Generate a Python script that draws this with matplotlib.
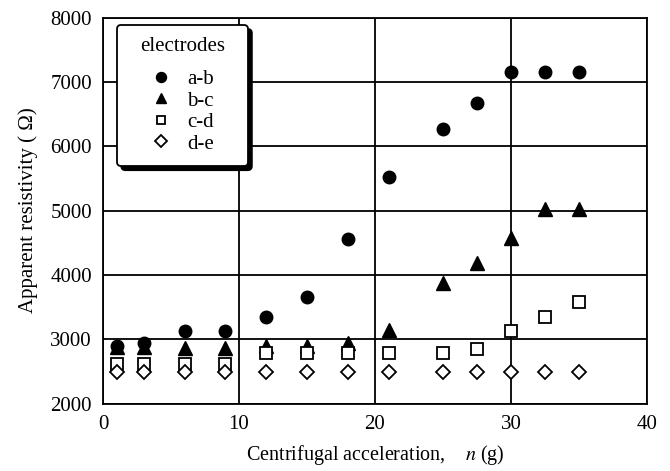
import numpy as np
import matplotlib
matplotlib.use("Agg")
from matplotlib import pyplot as plt

plt.rcParams['font.family'] = ['Liberation Serif', 'DejaVu Serif']
plt.rcParams['mathtext.fontset'] = 'stix'

# Centrifugal acceleration n (g)
n = [1, 3, 6, 9, 12, 15, 18, 21, 25, 27.5, 30, 32.5, 35]

# Apparent resistivity (ohm) for each electrode pair
rho_ab = [2900, 2940, 3130, 3130, 3340, 3650, 4550, 5515, 6260, 6670, 7150, 7150, 7150]
rho_bc = [2880, 2880, 2870, 2870, 2890, 2890, 2940, 3140, 3875, 4190, 4575, 5025, 5025]
rho_cd = [2620, 2620, 2620, 2620, 2780, 2780, 2780, 2780, 2780, 2855, 3130, 3340, 3580]
rho_de = [2485, 2485, 2485, 2485, 2485, 2485, 2485, 2490, 2490, 2490, 2490, 2490, 2490]

labels = ['a-b', 'b-c', 'c-d', 'd-e']

fig = plt.figure(figsize=(6.7, 4.71), dpi=100)
ax = fig.add_axes([0.1537, 0.1433, 0.812, 0.8195])

ax.plot(n, rho_ab, 'o', color='black', markersize=9, label=labels[0])
ax.plot(n, rho_bc, '^', color='black', markersize=9.5, label=labels[1])
ax.plot(n, rho_cd, 's', mfc='white', mec='black', mew=1.3, markersize=8, label=labels[2])
ax.plot(n, rho_de, 'D', mfc='white', mec='black', mew=1.3, markersize=7.5, label=labels[3])

ax.set_xlim(0, 40)
ax.set_ylim(2000, 8000)
ax.set_xticks([0, 10, 20, 30, 40])
ax.set_yticks(np.arange(2000, 8001, 1000))
ax.grid(True, color='black', linewidth=1.3)
ax.set_axisbelow(True)
ax.tick_params(length=0, labelsize=15)
ax.tick_params(axis='x', pad=8)
ax.tick_params(axis='y', pad=8)
for s in ax.spines.values():
    s.set_linewidth(1.3)

ax.set_xlabel('Centrifugal acceleration,    $n$ (g)', fontsize=14.5, labelpad=7)
ax.set_ylabel('Apparent resistivity ( \u03a9)', fontsize=15, labelpad=9)

leg = ax.legend(title='electrodes', loc='upper left',
                bbox_to_anchor=(0.026, 0.6, 0.24, 0.381), mode='expand',
                borderaxespad=0, fontsize=15, title_fontsize=15, fancybox=True,
                shadow={'color': 'black', 'alpha': 1, 'ox': 3, 'oy': -3},
                framealpha=1, edgecolor='black', handletextpad=-0.25,
                labelspacing=0.09, borderpad=0.6, handlelength=3.0,
                markerscale=0.8)
leg.get_frame().set_linewidth(1.3)
# extra room between the legend title and its entries
leg._legend_box.sep = 9.5

fig.savefig('out.png', dpi=100)
